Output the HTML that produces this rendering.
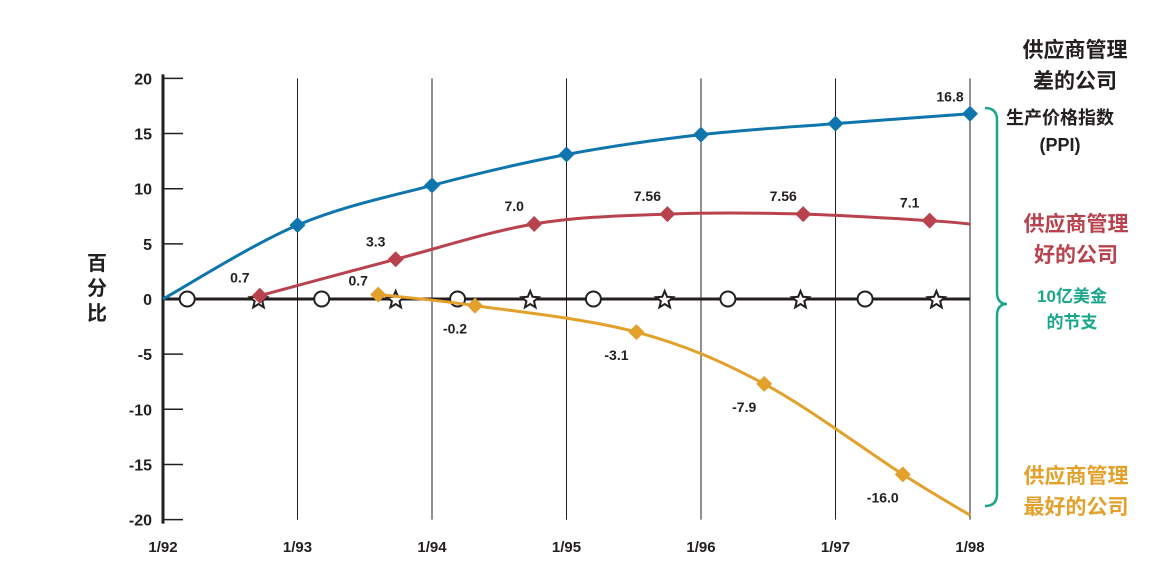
<!DOCTYPE html>
<html><head><meta charset="utf-8"><style>
html,body{margin:0;padding:0;background:#fff;width:1151px;height:566px;overflow:hidden}
svg text{font-family:"Liberation Sans","Noto Sans CJK SC",sans-serif}
</style></head><body>
<svg id="chart" width="1151" height="566" xmlns="http://www.w3.org/2000/svg">
<g id="grid"></g>
<g id="axes"></g>
<g id="series"></g>
<g id="labels"></g>
<text font-size="20" font-weight="bold" fill="#231f20" text-anchor="middle"><tspan x="97" y="270">百</tspan><tspan x="97" y="295">分</tspan><tspan x="97" y="320">比</tspan></text>
<g font-weight="bold" text-anchor="middle">
<text font-size="21" fill="#231f20"><tspan x="1075" y="57">供应商管理</tspan><tspan x="1075" y="88">差的公司</tspan></text>
<text font-size="18" fill="#231f20"><tspan x="1060" y="124">生产价格指数</tspan><tspan x="1060" y="151">(PPI)</tspan></text>
<text font-size="21" fill="#b8434e"><tspan x="1076" y="231">供应商管理</tspan><tspan x="1076" y="262">好的公司</tspan></text>
<text font-size="17" fill="#1aa68a"><tspan x="1072" y="302">10亿美金</tspan><tspan x="1072" y="328">的节支</tspan></text>
<text font-size="21" fill="#e3a12b"><tspan x="1076" y="483">供应商管理</tspan><tspan x="1076" y="514">最好的公司</tspan></text>
<path d="M985,108 Q997,108 997,120 L997,292 Q997,304 1007,304 Q997,304 997,316 L997,494 Q997,506 985,506" fill="none" stroke="#1aa68a" stroke-width="2.5"/>
</g>
</svg>
<script>
const yearLabels=["1/92","1/93","1/94","1/95","1/96","1/97","1/98"];
const yTicks=[20,15,10,5,0,-5,-10,-15,-20];
const blueX=[0,1,2,3,4,5,6];
const blueY=[0,6.7,10.3,13.1,14.9,15.9,16.8];
const redX=[0.72,1.73,2.76,3.75,4.76,5.7,6];
const redY=[0.3,3.6,6.8,7.7,7.7,7.1,6.8];
const redLabels=["0.7","3.3","7.0","7.56","7.56","7.1",""];
const orangeX=[1.6,2.32,3.52,4.47,5.5,6];
const orangeY=[0.4,-0.6,-3.0,-7.7,-15.9,-19.6];
const orangeLabels=["0.7","-0.2","-3.1","-7.9","-16.0",""];
const blueLabels=["","","","","","","16.8"];
const circleX=[0.18,1.18,2.19,3.2,4.2,5.22];
const starX=[0.71,1.73,2.73,3.73,4.74,5.75];
const NS="http://www.w3.org/2000/svg";
const X=t=>163+t*134.5, Y=v=>299-v*11.03;
function mk(tag,attrs,parent){const e=document.createElementNS(NS,tag);for(const k in attrs)e.setAttribute(k,attrs[k]);parent.appendChild(e);return e;}
const grid=document.getElementById('grid'),axes=document.getElementById('axes'),ser=document.getElementById('series'),lab=document.getElementById('labels');
yearLabels.forEach((l,i)=>{
 if(i>0){const g=mk('line',{x1:X(i),x2:X(i),y1:Y(20),y2:Y(-20),stroke:'#231f20','stroke-width':1},grid);
 
 }
 const t=mk('text',{x:X(i),y:552,'font-size':15,'font-weight':'bold','text-anchor':'middle',fill:'#231f20'},axes);t.textContent=l;
 
 
});
yTicks.forEach(v=>{
 const l=mk('line',{x1:X(0),x2:X(0)+20,y1:Y(v),y2:Y(v),stroke:'#231f20','stroke-width':1.5},axes);
 
 
 const t=mk('text',{x:152,y:Y(v)+6,'font-size':16,'font-weight':'bold','text-anchor':'end',fill:'#231f20'},axes);t.textContent=v;
 
 
});
const ya=mk('line',{x1:X(0),x2:X(0),y1:Y(20)-4,y2:Y(-20)+4,stroke:'#231f20','stroke-width':3},axes);


const zl=mk('line',{x1:X(0),x2:X(6),y1:Y(0),y2:Y(0),stroke:'#231f20','stroke-width':3},axes);


function smooth(xs,ys){const p=xs.map((x,i)=>[X(x),Y(ys[i])]);let d='M'+p[0].join(',');
 for(let i=0;i<p.length-1;i++){const p0=p[i-1]||p[i],p1=p[i],p2=p[i+1],p3=p[i+2]||p2;
 d+=` C${p1[0]+(p2[0]-p0[0])/6},${p1[1]+(p2[1]-p0[1])/6} ${p2[0]-(p3[0]-p1[0])/6},${p2[1]-(p3[1]-p1[1])/6} ${p2[0]},${p2[1]}`;}return d;}
function series(xs,ys,color,name,labels,dy){
 const p=mk('path',{d:smooth(xs,ys),fill:'none',stroke:color,'stroke-width':3},ser);
 
 
 xs.forEach((x,i)=>{
  if(i===xs.length-1&&name!=='ppi')return;
  if(name==='ppi'&&i===0)return;
  const cx=X(x),cy=Y(ys[i]);
  const m=mk('path',{d:`M${cx},${cy-8} L${cx+8},${cy} L${cx},${cy+8} L${cx-8},${cy} Z`,fill:color},ser);
  
  
  if(labels[i]){const t=mk('text',{x:cx-20,y:cy+dy(ys[i]),'font-size':14,'font-weight':'bold','text-anchor':'middle',fill:'#231f20'},lab);t.textContent=labels[i];
  
  }
 });
}
circleX.forEach(x=>{const c=mk('circle',{cx:X(x),cy:Y(0),r:7.5,fill:'#fff',stroke:'#231f20','stroke-width':2},ser);
 
 });
starX.forEach(x=>{const cx=X(x),cy=Y(0)+1;let d='';for(let k=0;k<10;k++){const r=k%2?4:9,a=-Math.PI/2+k*Math.PI/5;d+=(k?'L':'M')+(cx+r*Math.cos(a)).toFixed(1)+','+(cy+r*Math.sin(a)).toFixed(1);}
 const s=mk('path',{d:d+'Z',fill:'#fff',stroke:'#231f20','stroke-width':2},ser);
 
 });
series(blueX,blueY,'#0f75ad','ppi',blueLabels,()=>-12);
series(redX,redY,'#b8434e','good',redLabels,()=>-13);
series(orangeX,orangeY,'#e3a12b','best',orangeLabels,v=>v>0?-9:28);
</script>
</body></html>
